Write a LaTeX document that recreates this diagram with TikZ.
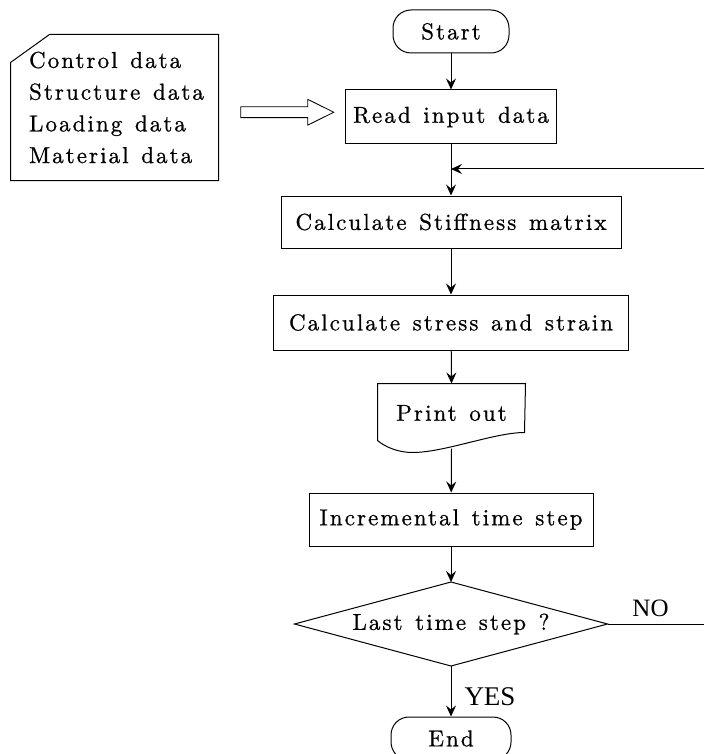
\documentclass[tikz,border=0pt]{standalone}
\usepackage{fontspec}
\newfontfamily\yesnofont{Liberation Serif}
\newfontfamily\spacedfont{lmroman10-regular.otf}[LetterSpace=9,WordSpace=1.3,FakeBold=0.8]
\usetikzlibrary{shapes.arrows,arrows.meta,calc}
\begin{document}
\begin{tikzpicture}[x=1pt,y=-1pt,line width=1pt,
  every node/.style={font=\spacedfont\fontsize{23}{27}\selectfont},
  procbox/.style={draw,rectangle,inner sep=0pt},
  term/.style={draw,rectangle,rounded corners=18pt,inner sep=0pt,minimum width=116pt,minimum height=43pt},
  flow/.style={-{Stealth[length=11pt,width=10pt,inset=4pt]}},
  lab/.style={font=\yesnofont\fontsize{25}{28}\selectfont}]
\clip (0,0) rectangle (704,754);
% nodes
\node[term] (start) at (451,31.5) {Start};
\node[procbox,minimum width=211pt,minimum height=54pt] (read) at (451,117) {Read input data};
\node[procbox,minimum width=340pt,minimum height=52pt] (stiff) at (451,222) {Calculate Stiffness matrix};
\node[procbox,minimum width=355pt,minimum height=55pt] (stress) at (451,322.5) {Calculate stress and strain};
\node[inner sep=0pt,minimum width=147pt,minimum height=64pt] (print) at (451.5,416) {};
\node (printtxt) at ($(print.center)+(0,-3)$) {Print out};
\node[procbox,minimum width=284pt,minimum height=53pt] (inc) at (451,519.5) {Incremental time step};
\node[inner sep=0pt,minimum width=312pt,minimum height=83pt] (last) at (451,624) {Last time step ?};
\node[term,minimum width=120pt] (end) at (451,738.5) {End};
\node[inner sep=0pt,minimum width=207pt,minimum height=145pt,align=left,font=\spacedfont\fontsize{23}{31.7}\selectfont] (data) at (114.5,107.5)
  {\hspace*{4pt}Control data\\\hspace*{4pt}Structure data\\\hspace*{4pt}Loading data\\\hspace*{4pt}Material data};
\node[draw,single arrow,inner sep=5pt,minimum height=93pt,minimum width=25pt,single arrow head extend=7.5pt,single arrow tip angle=53,line width=0.8pt] (dbl) at ($(data.east)!0.5!(read.west)$) {};
% shapes drawn around nodes
\draw ($(data.north west)+(0,28)$) -- ($(data.north west)+(39,0)$) -- (data.north east) -- (data.south east) -- (data.south west) -- cycle;
\draw ($(print.north west)+(0,57)$) -- (print.north west) -- (print.north east) -- ($(print.north west)+(147,49)$)
  .. controls ($(print.north west)+(117,49)$) and ($(print.north west)+(67,69)$) .. ($(print.north west)+(35,69)$)
  .. controls ($(print.north west)+(20,69)$) and ($(print.north west)+(7,63)$) .. ($(print.north west)+(0,57)$);
\draw (last.north) -- (last.east) -- (last.south) -- (last.west) -- cycle;
% connectors
\coordinate (fbR) at (704,169);
\coordinate (noR) at (last.east -| fbR);
\draw[flow] (start) -- (read);
\draw[flow] (read) -- (stiff);
\draw[flow] (fbR) -- (fbR -| read.south);
\draw[flow] (stiff) -- (stress);
\draw[flow] (stress) -- (print.north);
\draw[flow] (print.south) -- (inc);
\draw[flow] (inc) -- (last.north);
\draw[flow] (last.south) -- (end);
\draw (last.east) -- (noR);
\node[lab] (no) at ($(last.east)+(43,-16)$) {NO};
\node[lab,font=\yesnofont\fontsize{27}{30}\selectfont] (yes) at (490,697) {YES};
\end{tikzpicture}
\end{document}
